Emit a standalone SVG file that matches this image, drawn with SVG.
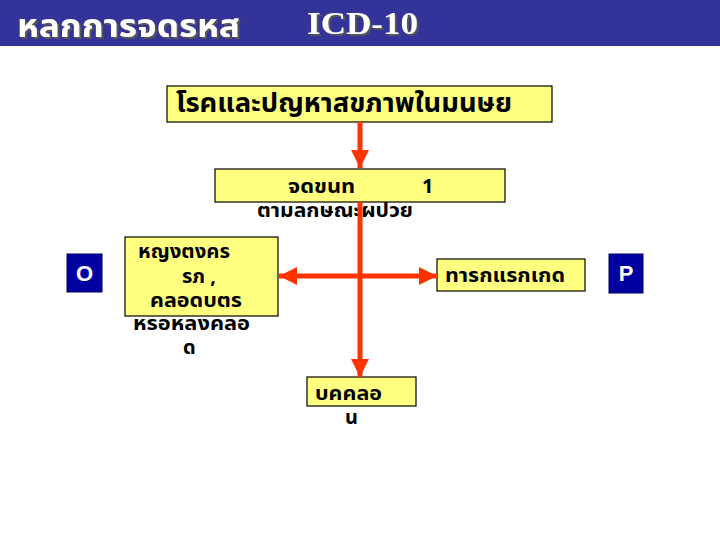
<svg xmlns="http://www.w3.org/2000/svg" width="720" height="540" viewBox="0 0 720 540">
<defs>
<style>
.th{font-family:Tahoma,"Noto Sans Thai","Noto Sans Thai UI",Loma,Garuda,"DejaVu Sans","Noto Sans",sans-serif;font-weight:bold;fill:#000}
.box{fill:#FFFF80;stroke:#000;stroke-width:1.2}
.tag{fill:#0000A0;stroke:#000060;stroke-width:1}
.tagt{font-family:"Liberation Sans",Arial,sans-serif;font-weight:bold;font-size:22px;fill:#fff}
.conn{stroke:#FF3300;stroke-width:5;fill:none}
.hd{fill:#fff;font-weight:bold;filter:url(#shadow)}
</style>
<filter id="shadow" x="-10%" y="-30%" width="130%" height="160%">
<feOffset in="SourceAlpha" dx="2" dy="2" result="o"/>
<feFlood flood-color="#555"/>
<feComposite in2="o" operator="in" result="s"/>
<feMerge><feMergeNode in="s"/><feMergeNode in="SourceGraphic"/></feMerge>
</filter>
<marker id="ah" viewBox="0 0 10 10" refX="10" refY="5" markerWidth="3.6" markerHeight="3.6" markerUnits="strokeWidth" orient="auto">
<path d="M0,0 L10,5 L0,10 z" fill="#FF3300"/>
</marker>
<marker id="as" viewBox="0 0 10 10" refX="0" refY="5" markerWidth="3.6" markerHeight="3.6" markerUnits="strokeWidth" orient="auto">
<path d="M10,0 L0,5 L10,10 z" fill="#FF3300"/>
</marker>
</defs>
<rect x="0" y="0" width="720" height="540" fill="#fff"/>
<g id="header">
<rect x="0" y="0" width="720" height="46" fill="#333399"/>
<text class="hd th" x="17" y="37" font-size="32" textLength="223" lengthAdjust="spacingAndGlyphs" style="fill:#fff">หลกการจดรหส</text>
<text class="hd" x="307" y="34" font-family="Liberation Serif,serif" font-size="32" textLength="111" lengthAdjust="spacingAndGlyphs">ICD-10</text>
</g>
<g id="node-disease">
<rect class="box" x="167" y="86" width="385" height="36"/>
<text class="th" x="176" y="112" font-size="26" textLength="336" lengthAdjust="spacingAndGlyphs">โรคและปญหาสขภาพในมนษย</text>
</g>
<g id="node-step1">
<rect class="box" x="215" y="169" width="290" height="33"/>
<text class="th" x="288" y="193" font-size="20" textLength="67" lengthAdjust="spacingAndGlyphs">จดขนท</text>
<text class="th" x="422" y="193" font-size="20">1</text>
<text class="th" x="257" y="217" font-size="20" textLength="156" lengthAdjust="spacingAndGlyphs">ตามลกษณะผปวย</text>
</g>
<g id="node-O">
<rect class="tag" x="67" y="254" width="35" height="38"/>
<text class="tagt" x="84.5" y="281" text-anchor="middle">O</text>
</g>
<g id="node-mother">
<rect class="box" x="125" y="237" width="153" height="79"/>
<text class="th" x="138" y="258" font-size="20" textLength="92" lengthAdjust="spacingAndGlyphs">หญงตงคร</text>
<text class="th" x="182" y="283" font-size="20">รภ ,</text>
<text class="th" x="150" y="307" font-size="20" textLength="92" lengthAdjust="spacingAndGlyphs">คลอดบตร</text>
<text class="th" x="133" y="330" font-size="20" textLength="117" lengthAdjust="spacingAndGlyphs">หรอหลงคลอ</text>
<text class="th" x="183" y="354" font-size="20">ด</text>
</g>
<g id="node-newborn">
<rect class="box" x="437" y="259" width="148" height="32"/>
<text class="th" x="445" y="282" font-size="20" textLength="120" lengthAdjust="spacingAndGlyphs">ทารกแรกเกด</text>
</g>
<g id="node-P">
<rect class="tag" x="609" y="254" width="34" height="39"/>
<text class="tagt" x="626" y="281" text-anchor="middle">P</text>
</g>
<g id="node-person">
<rect class="box" x="307" y="377" width="109" height="29"/>
<text class="th" x="315" y="400" font-size="20" textLength="67" lengthAdjust="spacingAndGlyphs">บคคลอ</text>
<text class="th" x="345" y="424" font-size="20">น</text>
</g>
<g id="connectors">
<line class="conn" x1="360" y1="122" x2="360" y2="168" marker-end="url(#ah)"/>
<line class="conn" x1="360" y1="202" x2="360" y2="377" marker-end="url(#ah)"/>
<line class="conn" x1="279" y1="276" x2="437" y2="276" marker-start="url(#as)" marker-end="url(#ah)"/>
</g>
</svg>
